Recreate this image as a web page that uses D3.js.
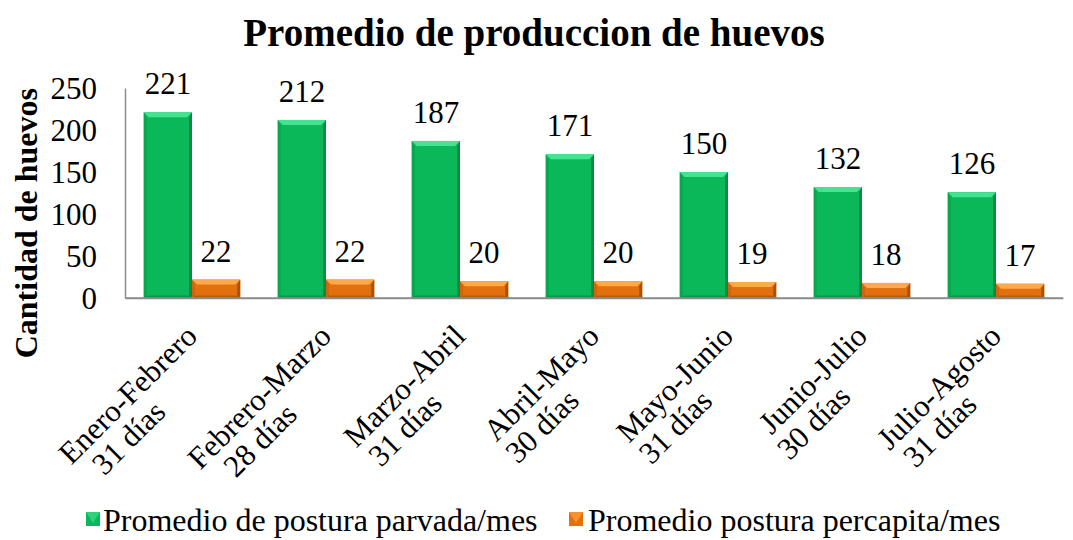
<!DOCTYPE html>
<html>
<head>
<meta charset="utf-8">
<script src="https://cdn.jsdelivr.net/npm/d3@7"></script>
<style>
  html, body { margin: 0; padding: 0; background: #fff; }
  svg { display: block; }
  text { font-family: "Liberation Serif", "Times New Roman", serif; fill: #000; }
</style>
</head>
<body>
<svg id="chart" width="1073" height="540"></svg>
<script>
const categoriesLine1 = ["Enero-Febrero", "Febrero-Marzo", "Marzo-Abril", "Abril-Mayo", "Mayo-Junio", "Junio-Julio", "Julio-Agosto"];
const categoriesLine2 = ["31 días", "28  días", "31 días", "30 días", "31 días", "30 días", "31 días"];
const seriesNames = ["Promedio de postura parvada/mes", "Promedio postura percapita/mes"];
const parvada = [221, 212, 187, 171, 150, 132, 126];
const percapita = [22, 22, 20, 20, 19, 18, 17];
const yTicks = [0, 50, 100, 150, 200, 250];
const title = "Promedio de produccion de huevos";
const yTitle = "Cantidad de huevos";

const svg = d3.select("#chart");
const m = { left: 125, top: 88 };
const plotW = 938, plotH = 210;
const FS = 31;

const x0 = d3.scaleBand().domain(d3.range(categoriesLine1.length)).range([m.left, m.left + plotW]).paddingInner(0.28).paddingOuter(0.14);
const x1 = d3.scaleBand().domain([0, 1]).range([0, x0.bandwidth()]);
const y = d3.scaleLinear().domain([0, 250]).range([m.top + plotH, m.top]);

const colors = [
  { main: "#0ab85a", light: "#45e391", side: "#09a650", dark: "#078a42" },
  { main: "#e2700f", light: "#ffaa4a", side: "#cf650c", dark: "#a85205" }
];

// Title
svg.append("text").attr("x", 534).attr("y", 46).attr("text-anchor", "middle")
  .style("font-size", "39px").style("font-weight", "bold").text(title);

// Y title
svg.append("text").attr("transform", `translate(37, 88) rotate(-90)`)
  .attr("text-anchor", "end").style("font-size", "32px").style("font-weight", "bold").text(yTitle);

// Axes
const yAxis = d3.axisLeft(y).tickValues(yTicks).tickSize(0).tickPadding(28);
const gy = svg.append("g").attr("transform", `translate(${m.left},0)`).call(yAxis);
gy.select(".domain").attr("stroke", "#8c8c8c").attr("stroke-width", 1.5);
gy.selectAll(".tick text").style("font-size", FS + "px").style("font-family", "Liberation Serif").attr("dy", "0.34em").attr("fill", "#000");

const xAxis = d3.axisBottom(x0).tickSize(0).tickFormat("");
const gx = svg.append("g").attr("transform", `translate(0,${m.top + plotH})`).call(xAxis);
gx.select(".domain").attr("stroke", "#8c8c8c").attr("stroke-width", 1.5);

// Bars with bevel
function drawBar(g, xL, w, yT, yB, c) {
  const b = Math.min(5, (yB - yT) / 2.5);
  g.append("rect").attr("x", xL).attr("y", yT).attr("width", w).attr("height", yB - yT).attr("fill", c.main);
  g.append("polygon").attr("points", [[xL, yT], [xL + w, yT], [xL + w - b, yT + b], [xL + b, yT + b]].join(" ")).attr("fill", c.light);
  g.append("polygon").attr("points", [[xL, yT], [xL + b * 0.6, yT + b], [xL + b * 0.6, yB - b * 0.5], [xL, yB]].join(" ")).attr("fill", c.side);
  g.append("polygon").attr("points", [[xL + w, yT], [xL + w - b * 0.6, yT + b], [xL + w - b * 0.6, yB - b * 0.5], [xL + w, yB]].join(" ")).attr("fill", c.dark);
  g.append("polygon").attr("points", [[xL, yB], [xL + b * 0.6, yB - b * 0.5], [xL + w - b * 0.6, yB - b * 0.5], [xL + w, yB]].join(" ")).attr("fill", c.dark).attr("opacity", 0.7);
}

const bars = svg.append("g");
const series = [parvada, percapita];
series.forEach((vals, s) => {
  vals.forEach((v, i) => {
    const xL = x0(i) + x1(s);
    drawBar(bars, xL, x1.bandwidth(), y(v), y(0), colors[s]);
    svg.append("text").attr("x", xL + x1.bandwidth() / 2).attr("y", y(v) - 18)
      .attr("text-anchor", "middle").style("font-size", FS + "px").text(v);
  });
});
svg.append("line").attr("x1", m.left).attr("x2", m.left + plotW).attr("y1", y(0)).attr("y2", y(0)).attr("stroke", "#8c8c8c").attr("stroke-width", 1.5);

// X labels (rotated, two lines)
categoriesLine1.forEach((c, i) => {
  const cx = x0(i) + x0.bandwidth() / 2;
  const g = svg.append("g").attr("transform", `translate(${cx + 7}, ${y(0) + 40}) rotate(-45)`);
  const t1 = g.append("text").attr("x", 0).attr("y", 0).attr("text-anchor", "end").style("font-size", FS + "px").text(c);
  const w1 = t1.node().getComputedTextLength();
  g.append("text").attr("x", -w1 / 2 - 30).attr("y", 31).attr("text-anchor", "middle").style("font-size", FS + "px").text(categoriesLine2[i]);
});

// Legend
const legendBase = 531;
const leg = svg.append("g");
const legItems = [{ x: 86, tx: 103 }, { x: 569, tx: 588 }];
legItems.forEach((it, s) => {
  const c = colors[s];
  const sz = 14;
  const top = legendBase - 19;
  leg.append("rect").attr("x", it.x).attr("y", top).attr("width", sz).attr("height", sz).attr("fill", c.main);
  leg.append("polygon").attr("points", [[it.x, top], [it.x + sz, top], [it.x + sz / 2, top + sz - 3]].join(" ")).attr("fill", c.light).attr("opacity", 0.6);
  leg.append("text").attr("x", it.tx).attr("y", legendBase).style("font-size", "32px").text(seriesNames[s]);
});
</script>
</body>
</html>
